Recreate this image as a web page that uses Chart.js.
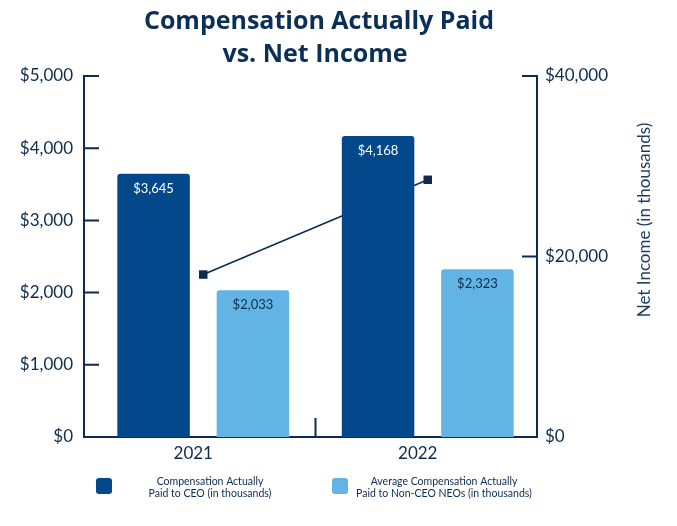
<!DOCTYPE html>
<html>
<head>
<meta charset="utf-8">
<script src="https://cdn.jsdelivr.net/npm/chart.js@4.4.1/dist/chart.umd.min.js"></script>
<style>
  html, body { margin: 0; padding: 0; background: #fff; }
</style>
</head>
<body>
<canvas id="payChart" width="677" height="526"></canvas>
<script>
const years = ['2021', '2022'];
const ceoPay = [3645, 4168];
const neoPay = [2033, 2323];
const netIncome = [18000, 28500];
const titleLines = ['Compensation Actually Paid', 'vs. Net Income'];
const ceoLegend = ['Compensation Actually', 'Paid to CEO (in thousands)'];
const neoLegend = ['Average Compensation Actually', 'Paid to Non-CEO NEOs (in thousands)'];
const rightAxisTitle = 'Net Income (in thousands)';

const navy = '#0c2b4f';
const darkBlue = '#03488a';
const lightBlue = '#62b4e4';
const fontName = 'Lato, "Open Sans", sans-serif';

const money = v => '$' + Number(v).toLocaleString('en-US');

// the category band in the original sits a few px right of centre
const shiftX = {
  id: 'shiftX',
  afterLayout(chart) {
    const x = chart.scales.x;
    x._startPixel += 7;
    x._length -= 4;
    x._endPixel = x._startPixel + x._length;
  }
};

// title, labels, inward ticks, legend
const extras = {
  id: 'extras',
  afterDatasetsDraw(chart) {
    const ctx = chart.ctx;
    ctx.save();
    ctx.font = '13px ' + fontName;
    ctx.textAlign = 'center';
    ctx.textBaseline = 'middle';
    [0, 1].forEach(di => {
      const meta = chart.getDatasetMeta(di);
      meta.data.forEach((bar, i) => {
        ctx.fillStyle = di === 0 ? '#ffffff' : navy;
        ctx.fillText(money(chart.data.datasets[di].data[i]), bar.x, bar.y + 15);
      });
    });
    ctx.restore();
  },
  afterDraw(chart) {
    const ctx = chart.ctx;
    const area = chart.chartArea;
    const y = chart.scales.y, y2 = chart.scales.y2, x = chart.scales.x;
    ctx.save();

    // title
    ctx.fillStyle = '#0b2f57';
    ctx.font = 'bold 25px "Open Sans", sans-serif';
    ctx.textAlign = 'center';
    ctx.textBaseline = 'middle';
    ctx.fillText(titleLines[0], 319, 22);
    ctx.fillText(titleLines[1], 315, 55);

    // inward ticks
    ctx.strokeStyle = navy;
    ctx.lineWidth = 2;
    ctx.beginPath();
    y.ticks.forEach(t => {
      const py = y.getPixelForValue(t.value);
      ctx.moveTo(area.left, py); ctx.lineTo(area.left + 15, py);
    });
    y2.ticks.forEach(t => {
      const py = y2.getPixelForValue(t.value);
      ctx.moveTo(area.right, py); ctx.lineTo(area.right - 15, py);
    });
    const mid = (x.getPixelForValue(0) + x.getPixelForValue(1)) / 2;
    ctx.moveTo(mid, area.bottom); ctx.lineTo(mid, area.bottom - 19);
    ctx.stroke();

    // right axis title
    ctx.save();
    ctx.translate(645, 220);
    ctx.rotate(-Math.PI / 2);
    ctx.fillStyle = '#1d3c5e';
    ctx.font = '17px ' + fontName;
    ctx.fillText(rightAxisTitle, 0, 0);
    ctx.restore();

    // legend
    const items = [
      { color: darkBlue, box: 96, text: 210, lines: ceoLegend },
      { color: lightBlue, box: 332, text: 444, lines: neoLegend }
    ];
    ctx.font = '10.5px ' + fontName;
    items.forEach(it => {
      ctx.fillStyle = it.color;
      ctx.beginPath();
      ctx.roundRect(it.box, 478, 16, 16, 3);
      ctx.fill();
      ctx.fillStyle = navy;
      ctx.fillText(it.lines[0], it.text, 482);
      ctx.fillText(it.lines[1], it.text, 494);
    });
    ctx.restore();
  }
};

new Chart(document.getElementById('payChart').getContext('2d'), {
  data: {
    labels: years,
    datasets: [
      {
        type: 'bar',
        label: ceoLegend.join(' '),
        data: ceoPay,
        backgroundColor: darkBlue,
        borderRadius: 3,
        barPercentage: 0.73,
        categoryPercentage: 0.885,
        yAxisID: 'y'
      },
      {
        type: 'bar',
        label: neoLegend.join(' '),
        data: neoPay,
        backgroundColor: lightBlue,
        borderRadius: 3,
        barPercentage: 0.73,
        categoryPercentage: 0.885,
        yAxisID: 'y'
      },
      {
        type: 'line',
        label: 'Net Income',
        data: netIncome,
        borderColor: navy,
        borderWidth: 1.5,
        backgroundColor: navy,
        pointStyle: 'rect',
        pointRadius: 6,
        pointBorderWidth: 0,
        yAxisID: 'y2'
      }
    ]
  },
  options: {
    responsive: false,
    animation: false,
    layout: {
      padding: { left: 0, right: 0, top: 76, bottom: 59 }
    },
    plugins: {
      legend: { display: false },
      title: { display: false },
      tooltip: { enabled: false }
    },
    scales: {
      x: {
        grid: { display: false, drawTicks: false },
        border: { color: navy, width: 2 },
        ticks: {
          color: navy,
          padding: 6,
          labelOffset: -10,
          font: { family: fontName, size: 17 }
        },
        afterFit: s => { s.height = 30; }
      },
      y: {
        position: 'left',
        min: 0,
        max: 5000,
        grid: { display: false, drawTicks: false },
        border: { color: navy, width: 2 },
        ticks: {
          stepSize: 1000,
          color: navy,
          padding: 11,
          font: { family: fontName, size: 17 },
          callback: v => money(v)
        },
        afterFit: s => { s.width = 84; }
      },
      y2: {
        position: 'right',
        min: 0,
        max: 40000,
        grid: { display: false, drawTicks: false },
        border: { color: navy, width: 2 },
        ticks: {
          stepSize: 20000,
          color: navy,
          padding: 8,
          font: { family: fontName, size: 17 },
          callback: v => money(v)
        },
        afterFit: s => { s.width = 140; }
      }
    }
  },
  plugins: [shiftX, extras]
});
</script>
</body>
</html>
